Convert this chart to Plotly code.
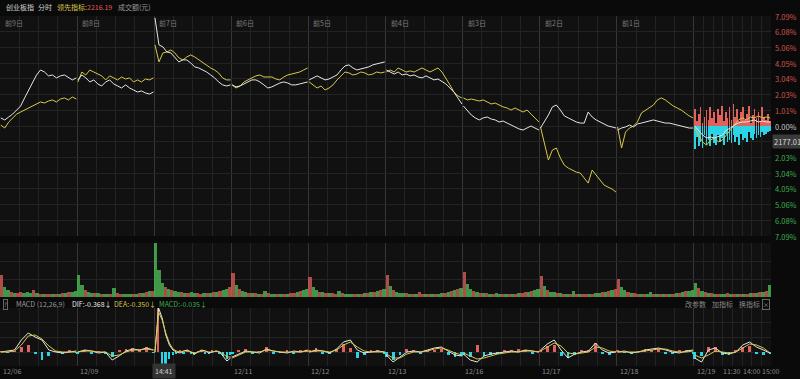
import plotly.graph_objects as go

# ---------------- data ----------------
DAY_TAGS = ["前9日", "前8日", "前7日", "前6日", "前5日", "前4日", "前3日", "前2日", "前1日"]
DATE_LABELS = ["12/06", "12/09", "12/10", "12/11", "12/12", "12/13", "12/16", "12/17", "12/18", "12/19"]
TODAY_TIME_LABELS = ["11:30", "14:00", "15:00"]
PCT_TICKS = [7.09, 6.08, 5.06, 4.05, 3.04, 2.03, 1.01, 0.00, -1.01, -2.03, -3.04, -4.05, -5.06, -6.08, -7.09]

# index (white) % change, one list per trading day
WHITE = [
    [0.52, 0.39, 0.58, 0.77, 1.03, 1.29, 1.81, 2.32, 2.84, 3.29, 3.61, 3.48, 3.23, 3.29, 3.10, 3.23, 3.29, 3.10, 2.97, 3.10],
    [2.97, 3.29, 3.10, 2.84, 2.97, 2.71, 2.58, 2.84, 2.97, 2.71, 2.58, 2.45, 2.65, 2.45, 2.32, 2.19, 2.26, 2.13, 2.06, 2.19],
    [6.97, 5.23, 5.10, 4.77, 4.71, 4.45, 4.13, 4.26, 4.26, 4.06, 3.81, 3.74, 3.61, 3.48, 3.29, 3.10, 2.84, 2.65, 2.58, 2.65],
    [2.65, 2.52, 2.58, 2.71, 2.84, 2.97, 2.97, 2.84, 2.65, 2.45, 2.52, 2.65, 2.77, 2.84, 2.77, 2.65, 2.65, 2.71, 2.77, 2.84],
    [2.97, 3.10, 3.23, 3.10, 2.97, 3.03, 3.16, 3.29, 3.61, 3.87, 3.94, 3.74, 3.61, 3.68, 3.74, 3.81, 3.94, 4.00, 4.06, 4.13],
    [3.61, 3.48, 3.35, 3.48, 3.29, 3.35, 3.23, 3.29, 3.16, 3.10, 3.23, 3.10, 2.97, 3.03, 2.84, 2.71, 2.45, 2.19, 1.81, 1.42],
    [1.29, 1.03, 0.71, 0.52, 0.39, 0.52, 0.58, 0.45, 0.39, 0.26, 0.32, 0.19, 0.06, -0.06, -0.19, -0.26, -0.13, 0.00, -0.13, -0.26],
    [-0.13, 0.26, 0.71, 1.23, 1.35, 1.03, 0.65, 0.52, 0.39, 0.26, 0.19, 0.19, 0.90, 0.58, 0.39, 0.26, 0.13, 0.00, -0.06, -0.13],
    [-0.26, -0.13, -0.06, 0.06, -0.06, 0.13, 0.19, 0.26, 0.32, 0.39, 0.32, 0.26, 0.19, 0.19, 0.13, 0.06, 0.00, -0.06, -0.13, -0.13],
    [0.00, -0.26, -0.58, -0.77, -0.71, -0.77, -0.65, -0.58, -0.26, -0.13, 0.06, 0.19, 0.26, 0.26, 0.32, 0.39, 0.26, 0.32, 0.26, 0.26],
]
# leading indicator (yellow) % change
YELLOW = [
    [0.06, -0.13, 0.26, 0.52, 0.77, 0.90, 1.03, 1.16, 1.29, 1.42, 1.55, 1.48, 1.61, 1.68, 1.55, 1.74, 1.81, 1.68, 1.87, 1.74],
    [2.84, 3.48, 3.29, 3.61, 3.48, 3.35, 3.23, 2.97, 3.23, 3.10, 2.97, 3.16, 3.03, 3.10, 2.84, 2.97, 2.84, 3.03, 2.97, 3.10],
    [5.23, 4.13, 4.71, 4.77, 4.90, 4.71, 4.39, 4.26, 4.45, 4.58, 4.45, 4.26, 4.13, 3.94, 3.74, 3.61, 3.42, 3.10, 2.97, 2.97],
    [2.65, 2.45, 2.58, 2.84, 2.97, 3.10, 3.23, 3.29, 3.16, 3.16, 3.16, 3.03, 2.97, 3.16, 3.29, 3.35, 3.42, 3.48, 3.61, 3.74],
    [2.84, 2.65, 2.45, 2.58, 2.32, 2.45, 2.65, 2.97, 3.23, 3.48, 3.42, 3.29, 3.35, 3.48, 3.42, 3.29, 3.35, 3.48, 3.42, 3.48],
    [3.48, 3.61, 3.48, 3.74, 3.61, 3.48, 3.55, 3.48, 3.61, 3.74, 3.61, 3.48, 3.61, 3.74, 3.48, 3.10, 2.65, 2.19, 1.94, 1.81],
    [1.81, 1.68, 1.74, 1.68, 1.61, 1.68, 1.55, 1.42, 1.48, 1.35, 1.23, 1.16, 1.03, 1.16, 1.03, 0.90, 1.03, 0.77, 0.52, 0.26],
    [-0.06, -1.10, -2.19, -1.55, -1.42, -2.06, -2.52, -2.71, -2.84, -2.97, -3.03, -3.35, -3.68, -2.84, -3.16, -3.48, -3.81, -3.94, -4.06, -4.26],
    [-0.06, -1.42, -0.39, -0.13, 0.00, 0.26, 0.84, 1.03, 1.16, 1.35, 1.68, 1.81, 1.68, 1.48, 1.29, 1.16, 1.03, 0.84, 0.65, 0.52],
    [-0.13, -0.58, -1.03, -1.23, -0.90, -0.77, -1.03, -0.90, -0.58, -0.26, 0.06, 0.39, 0.52, 0.39, 0.58, 0.52, 0.65, 0.52, 0.58, 0.52],
]
# today's up (red) / down (cyan) strength bars, in %
TODAY_UP = [1.1, 0.3, 0.8, 1.2, 0.2, 0.6, 1.0, 0.4, 1.25, 0.5, 0.9, 0.2, 1.1, 0.7, 1.3, 0.3, 0.9, 0.5, 1.2, 0.4,
            1.4, 0.6, 1.1, 0.3, 0.9, 1.2, 0.4, 0.8, 1.3, 0.2, 0.7, 1.1, 0.5, 0.9, 0.3, 1.2, 0.6, 0.4, 0.8, 0.3]
TODAY_DOWN = [1.5, 0.7, 1.3, 1.0, 1.4, 0.6, 1.2, 0.9, 1.3, 0.5, 1.1, 1.2, 0.6, 1.0, 0.8, 1.2, 0.5, 1.0, 0.9, 1.1,
              0.6, 1.0, 0.7, 1.2, 0.5, 0.9, 0.8, 1.0, 0.4, 0.8, 0.9, 0.5, 0.8, 0.6, 0.7, 0.4, 0.6, 0.5, 0.4, 0.3]

# turnover bars (亿元), one list per day
VOLUME = [
    [22, 10, 7, 5, 4, 4, 5, 4, 5, 4, 7, 4, 3, 3, 3, 3, 3, 3, 3, 4, 4, 5, 5, 6],
    [22, 12, 7, 5, 4, 4, 4, 3, 3, 3, 3, 9, 4, 3, 3, 3, 3, 3, 3, 4, 4, 5, 6, 6],
    [54, 27, 14, 10, 8, 7, 6, 5, 5, 4, 4, 5, 4, 4, 3, 4, 4, 4, 5, 5, 6, 7, 8, 10],
    [24, 12, 8, 6, 5, 4, 4, 4, 3, 3, 6, 4, 3, 3, 3, 3, 3, 3, 4, 4, 5, 6, 7, 8],
    [20, 10, 7, 5, 5, 4, 4, 4, 3, 6, 4, 3, 3, 3, 3, 3, 3, 4, 4, 5, 5, 6, 7, 8],
    [22, 11, 7, 5, 4, 4, 4, 3, 3, 3, 5, 3, 3, 3, 3, 3, 3, 4, 4, 5, 6, 7, 8, 9],
    [25, 13, 8, 6, 5, 4, 4, 4, 3, 3, 4, 3, 3, 3, 3, 3, 3, 4, 4, 5, 5, 6, 7, 8],
    [21, 11, 7, 5, 5, 4, 4, 3, 3, 3, 6, 3, 3, 3, 3, 3, 3, 4, 4, 5, 5, 6, 7, 8],
    [18, 10, 7, 5, 4, 4, 3, 3, 3, 3, 5, 3, 3, 3, 3, 3, 3, 3, 4, 4, 5, 6, 6, 7],
    [14, 9, 6, 5, 4, 4, 3, 3, 3, 3, 4, 3, 3, 3, 3, 3, 3, 4, 4, 4, 5, 5, 6, 12],
]
VOLUME_SIDE = [
    "rggrgrrgggrgrgrrgrgrgrgg",
    "ggrggrgrggrgrrgggrgrgrgr",
    "gggrgrggrgrggrrgrgrgrggr",
    "rgrggrgrgrgrggrgrgrrgrgg",
    "rggrgrgrrgrgggrgrgrgrgrg",
    "rgrgggrgrgrrgrgrggrgrgrg",
    "rggrgrgrgrggrgrgrgrrgrgg",
    "rgrggrgrgrgrgrrgrggrgrgr",
    "rggrgrrgrggrgrgrgrgrgrgg",
    "grgrgrgrggrgrgrgrgrgrgrg",
]

# MACD (12,26,9): DIF, DEA and histogram, one list per day
DIF = [
    [0, 0.3, 0.6, 3.6, 5.7, 4.5, 3.6, 0.6, 0, -0.3, 0, 0.3],
    [0, 0.6, 0.3, -0.3, 0, -2.4, -1.2, 0.3, 0.9, 0.6, 1.2, 0.6],
    [0, 13.2, 10.2, 5.1, 2.1, 0.6, 0, -0.3, 0.3, 0.6, 0, -0.6, 0, 0.6, 0.3, -0.3, 0, 0.3, 0, -1.2, -2.7, -1.8],
    [-1.5, -0.6, 0.3, 0, -0.3, 0.9, 0.3, 0, -0.3, 0.3, 0, 0.6],
    [0, 0.6, 0.3, -0.3, 0.9, 3.0, 3.6, 0.6, -0.3, 0, 0.3, 0],
    [-0.9, -3.0, -1.5, 0, 0.3, 0, 0.6, 1.2, 1.5, 0.3, -0.9, -1.2],
    [-0.6, -2.4, -3.0, -1.2, -0.6, -0.3, 0, 0.3, 0, 0.6, 0.3, 0],
    [0.6, 2.4, 3.6, 0.6, -1.8, -0.6, 0, 0.3, 2.7, 0.6, -0.3, 0],
    [0, 0.3, -0.3, 0, 0.6, 0.9, 1.2, 0.6, 0, -0.3, 0.3, 0.6],
    [-1.8, -3.0, 0.6, 1.2, -0.3, -0.6, 0, 2.1, 3.0, 1.5, 0.6, -0.37],
]
DEA = [
    [0, 0, 0.3, 2.1, 4.8, 5.1, 3.9, 1.8, 0.3, 0, 0, 0],
    [0, 0.3, 0.3, 0, 0, -1.2, -0.9, 0, 0.6, 0.6, 0.9, 0.6],
    [0, 12.0, 9.6, 5.7, 2.7, 0.9, 0.3, 0, 0.3, 0.3, 0, -0.3, 0, 0.3, 0.3, 0, 0, 0.3, 0, -0.6, -1.5, -1.5],
    [-1.8, -0.9, 0, 0, 0, 0.6, 0.3, 0, 0, 0, 0, 0.3],
    [0, 0.3, 0.3, 0, 0.6, 2.1, 3.0, 1.5, 0.3, 0, 0, 0],
    [-0.6, -1.8, -1.8, -0.6, 0, 0, 0.3, 0.9, 1.2, 0.6, -0.3, -0.9],
    [-0.3, -1.2, -2.1, -1.8, -1.2, -0.6, -0.3, 0, 0, 0.3, 0.3, 0],
    [0.3, 1.5, 2.7, 1.8, -0.3, -0.6, -0.3, 0, 1.5, 1.2, 0.3, 0],
    [0, 0, 0, 0, 0.3, 0.6, 0.9, 0.9, 0.3, 0, 0, 0.3],
    [-0.9, -1.8, -0.9, 0.3, 0, -0.3, 0, 1.2, 2.4, 2.1, 1.2, -0.35],
]
MACD_HIST = [
    [0.2, -0.3, 0.3, 1.5, 2.1, -0.6, -2.4, -1.2, 0.3, -0.5, 0.4, -0.3],
    [-0.5, 0.4, -0.6, 0.3, -0.4, -1.5, 0.6, 0.8, 1.2, 0.5, 1.5, -0.3],
    [0, 13.2, -3.9, -3.6, -2.0, -0.9, -0.5, 0.4, -0.6, 0.5, -0.4, -0.8, 0.3, 0.6, -0.5, -0.4, 0.4, 0.3, -0.6, -1.2, -2.0, -0.8],
    [-0.5, 0.6, 0.8, -0.4, 0.3, 1.5, -0.6, -0.3, 0.4, -0.5, 0.6, 0.5],
    [0.6, 1.2, -0.4, -0.6, 1.0, 2.4, 1.2, -1.8, -0.8, 0.6, 0.5, -0.4],
    [-1.5, -2.4, -0.8, 0.8, 0.6, -0.4, 0.5, 0.6, 1.0, -0.8, -1.6, -1.2],
    [-0.8, -1.5, 2.0, -1.2, -0.9, -0.5, 0.4, 0.6, 0.8, 0.5, -0.4, 0.3],
    [0.5, 1.8, 2.1, -1.2, -1.8, -0.9, 0.4, 0.5, 2.7, -0.6, -0.9, 0.3],
    [0.4, -0.3, -0.5, 0.3, 0.8, 0.6, 0.9, -0.5, -0.6, 0.4, 0.6, -0.4],
    [-2.0, -1.2, 1.5, 1.5, -0.8, -0.9, 0.4, 1.5, 1.8, -0.6, -0.8, -0.4],
]

HEADER = {"name": "创业板指", "mode": "分时", "lead_label": "领先指标:", "lead_value": "2216.19", "vol_label": "成交额(元)"}
MACD_TEXT = {"name": "MACD (12,26,9)", "dif": "DIF:-0.368↓", "dea": "DEA:-0.350↓", "macd": "MACD:-0.035↓"}
CROSS_TIME = "14:41"
CROSS_DAY = 2            # the crosshair label replaces this day's date label
CROSS_PRICE = "2177.01"
CROSS_PRICE_PCT = -0.97

# ---------------- style ----------------
W, H = 800, 379
FONT = "Noto Sans CJK SC, Arial, sans-serif"
C_WHITE = "#e6e6e6"
C_YELLOW = "#d8c84a"
C_RED = "#e0625a"
C_GREEN = "#4fc45a"
C_CYAN = "#2ad4e6"
C_GRID = "#232323"
C_GRID_MAJ = "#363636"
PLOT_BG = "#111111"
PAPER_BG = "#0a0a0a"
N_DAYS = len(DATE_LABELS)


def yp(pix):
    return 1 - pix / H


def xp(pix):
    return pix / W


def day_series(lists):
    xs, ys = [], []
    for d, vals in enumerate(lists):
        n = len(vals)
        for i, v in enumerate(vals):
            xs.append(d + 0.01 + 0.98 * i / (n - 1))
            ys.append(v)
        xs.append(None)
        ys.append(None)
    return xs, ys


fig = go.Figure()

# today's red / cyan bars
nb = len(TODAY_UP)
tx = [N_DAYS - 1 + (i + 0.5) / nb for i in range(nb)]
fig.add_trace(go.Bar(x=tx, y=TODAY_UP, width=0.009, marker=dict(color=C_RED, line_width=0),
                     xaxis="x", yaxis="y", showlegend=False))
fig.add_trace(go.Bar(x=tx, y=[-v for v in TODAY_DOWN], width=0.009, marker=dict(color=C_CYAN, line_width=0),
                     xaxis="x", yaxis="y", showlegend=False))

wx, wy = day_series(WHITE)
yx, yy = day_series(YELLOW)
fig.add_trace(go.Scatter(x=yx, y=yy, mode="lines", line=dict(color=C_YELLOW, width=1),
                         xaxis="x", yaxis="y", showlegend=False, connectgaps=False))
fig.add_trace(go.Scatter(x=wx, y=wy, mode="lines", line=dict(color=C_WHITE, width=1),
                         xaxis="x", yaxis="y", showlegend=False, connectgaps=False))

# volume
vx, vy, vc = [], [], []
for d, vals in enumerate(VOLUME):
    n = len(vals)
    for i, v in enumerate(vals):
        vx.append(d + (i + 0.5) / n)
        vy.append(v)
        vc.append(C_RED if VOLUME_SIDE[d][i] == "r" else C_GREEN)
fig.add_trace(go.Bar(x=vx, y=vy, width=1.0 / 24, marker=dict(color=vc, line_width=0, opacity=0.75),
                     xaxis="x2", yaxis="y2", showlegend=False))

# MACD
mx, my, mc, mw = [], [], [], []
for d, vals in enumerate(MACD_HIST):
    n = len(vals)
    for i, v in enumerate(vals):
        mx.append(d + 0.01 + 0.98 * i / (n - 1))
        my.append(v)
        mc.append(C_RED if v >= 0 else C_CYAN)
        mw.append(0.45 / n)
fig.add_trace(go.Bar(x=mx, y=my, width=mw, marker=dict(color=mc, line_width=0),
                     xaxis="x3", yaxis="y3", showlegend=False))
dx, dy = day_series(DIF)
ex, ey = day_series(DEA)
fig.add_trace(go.Scatter(x=dx, y=dy, mode="lines", line=dict(color=C_WHITE, width=1),
                         xaxis="x3", yaxis="y3", showlegend=False))
fig.add_trace(go.Scatter(x=ex, y=ey, mode="lines", line=dict(color=C_YELLOW, width=1),
                         xaxis="x3", yaxis="y3", showlegend=False))

# grid definitions
major = list(range(N_DAYS + 1))
minor = [d + q / 4 for d in range(N_DAYS - 1) for q in (1, 2, 3)] + [N_DAYS - 1 + q / 8 for q in range(1, 8)]
xcommon = dict(range=[0, N_DAYS], domain=[0, xp(771)], showticklabels=False, ticks="",
               tickvals=major, showgrid=True, gridcolor=C_GRID_MAJ, gridwidth=1, zeroline=False, showline=False,
               minor=dict(tickvals=minor, showgrid=True, gridcolor=C_GRID, gridwidth=1, ticks=""))
ycommon = dict(showticklabels=False, ticks="", showgrid=True, gridcolor=C_GRID, gridwidth=1,
               zeroline=False, showline=False)

fig.update_layout(
    width=W, height=H, margin=dict(l=0, r=0, t=0, b=0),
    paper_bgcolor=PAPER_BG, plot_bgcolor=PLOT_BG, barmode="overlay", bargap=0,
    font=dict(family=FONT, size=7, color="#9a9a9a"),
    xaxis=dict(anchor="y", **xcommon),
    xaxis2=dict(anchor="y2", matches="x", **xcommon),
    xaxis3=dict(anchor="y3", matches="x", **xcommon),
    yaxis=dict(domain=[yp(236), yp(16)], range=[-7.09, 7.09], tickvals=PCT_TICKS, **ycommon),
    yaxis2=dict(domain=[yp(297), yp(243)], range=[0, 54], tickvals=[0, 18, 36, 54], **ycommon),
    yaxis3=dict(domain=[yp(366), yp(308)], range=[-4.2, 13.2], tickvals=[0, 4.5, 9.0, 13.2], **ycommon),
)

ann = []
# header
hy = yp(7)
ann.append(dict(text=HEADER["name"], x=xp(4), y=hy, font=dict(color="#cfcfcf")))
ann.append(dict(text=HEADER["mode"], x=xp(36), y=hy, font=dict(color="#cfcfcf")))
ann.append(dict(text=HEADER["lead_label"], x=xp(55), y=hy, font=dict(color=C_YELLOW)))
ann.append(dict(text=HEADER["lead_value"], x=xp(85), y=hy, font=dict(color="#e05a50")))
ann.append(dict(text=HEADER["vol_label"], x=xp(116), y=hy, font=dict(color="#9a9a9a")))

# day tags
for d, tag in enumerate(DAY_TAGS):
    ann.append(dict(text=tag, x=d + 0.04, xref="x", y=yp(23), font=dict(color="#7d7d7d")))

# right percent labels (the one under the crosshair price box is hidden)
for v in PCT_TICKS:
    if abs(v - CROSS_PRICE_PCT) < 0.3:
        continue
    col = "#d0544c" if v > 0 else ("#c8c8c8" if v == 0 else "#3fae4f")
    ann.append(dict(text=f"{abs(v):.2f}%", x=xp(773), y=v, yref="y", font=dict(color=col, size=7.5)))
ann.append(dict(text=CROSS_PRICE, x=xp(772), y=CROSS_PRICE_PCT, yref="y", bgcolor="#3a3a3a",
                font=dict(color="#d8d8d8", size=7.5), borderpad=1))

# MACD header
my_ = yp(304)
ann.append(dict(text="?", x=xp(3), y=my_, bordercolor="#666", borderwidth=1, borderpad=0,
                font=dict(color="#999", size=6)))
ann.append(dict(text=MACD_TEXT["name"], x=xp(14), y=my_, font=dict(color="#9a9a9a")))
ann.append(dict(text=MACD_TEXT["dif"], x=xp(70), y=my_, font=dict(color="#e6e6e6")))
ann.append(dict(text=MACD_TEXT["dea"], x=xp(112), y=my_, font=dict(color=C_YELLOW)))
ann.append(dict(text=MACD_TEXT["macd"], x=xp(157), y=my_, font=dict(color="#3fae4f")))
for t, x0 in (("改参数", 683), ("加指标", 710), ("换指标", 737)):
    ann.append(dict(text=t, x=xp(x0), y=my_, font=dict(color="#8a8a8a")))
ann.append(dict(text="×", x=xp(762), y=my_, bordercolor="#666", borderwidth=1, borderpad=0,
                font=dict(color="#999", size=6)))

# bottom date labels
by = yp(371)
for d, lab in enumerate(DATE_LABELS):
    if d == CROSS_DAY:
        continue
    ann.append(dict(text=lab, x=d + 0.01, xref="x", y=by, font=dict(color="#8a8a8a")))
for t, pos in zip(TODAY_TIME_LABELS, (0.5, 0.75, 1.0)):
    ann.append(dict(text=t, x=N_DAYS - 1 + pos, xref="x", y=by, xanchor="center", font=dict(color="#8a8a8a")))
ann.append(dict(text=CROSS_TIME, x=xp(164), y=by, xanchor="center", bgcolor="#333333",
                font=dict(color="#d0d0d0"), borderpad=2))

for a in ann:
    a.setdefault("xref", "paper")
    a.setdefault("yref", "paper")
    a.setdefault("xanchor", "left")
    a.setdefault("yanchor", "middle")
    a.setdefault("showarrow", False)
fig.update_layout(annotations=ann)

fig.write_html("out.html")
